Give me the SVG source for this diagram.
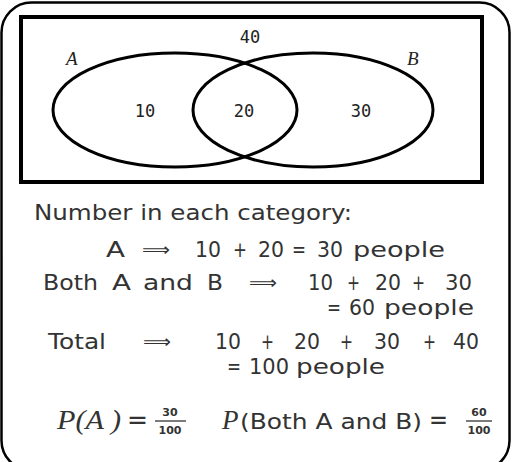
<svg xmlns="http://www.w3.org/2000/svg" width="512" height="462" viewBox="0 0 512 462">
<style>
.frame{fill:none;stroke:#000;stroke-width:2.5}
.box{fill:none;stroke:#000;stroke-width:4}
.ell{fill:none;stroke:#000;stroke-width:3}
.num{font-family:"DejaVu Sans Mono","Liberation Mono",monospace;font-size:17px;fill:#222;text-anchor:middle}
.set{font-family:"Liberation Serif",serif;font-style:italic;font-size:19px;fill:#222}
.t{font-family:"DejaVu Sans","Liberation Sans",sans-serif;font-size:22px;fill:#333}
.s{font-size:21px}
.ar{font-family:"DejaVu Sans","Liberation Sans",sans-serif;font-size:18px;fill:#333}
.pm{font-family:"Liberation Serif",serif;font-style:italic;font-size:27px;fill:#333}
.eq{font-family:"DejaVu Sans","Liberation Sans",sans-serif;font-size:26px;fill:#333}
.fr{font-family:"DejaVu Sans","Liberation Sans",sans-serif;font-weight:bold;font-size:11px;fill:#333;text-anchor:middle}
</style>
<rect class="frame" x="1.5" y="2.5" width="508" height="468" rx="30"/>
<g id="universe">
<rect class="box" x="21" y="17" width="461" height="165"/>
<text class="num" x="250" y="43">40</text>
</g>
<g id="setA">
<ellipse class="ell" cx="175" cy="110" rx="122" ry="57"/>
<text class="set" x="66" y="65">A</text>
<text class="num" x="145" y="117">10</text>
</g>
<g id="setB">
<ellipse class="ell" cx="313" cy="110" rx="120" ry="57"/>
<text class="set" x="407" y="65">B</text>
<text class="num" x="361" y="117">30</text>
</g>
<g id="intersection">
<text class="num" x="244" y="117">20</text>
</g>
<g id="text">
<text class="t" x="34" y="220" textLength="318" lengthAdjust="spacingAndGlyphs">Number in each category:</text>

<text class="t" x="106" y="257" textLength="19" lengthAdjust="spacingAndGlyphs">A</text>
<text class="ar" x="142" y="256" textLength="28" lengthAdjust="spacingAndGlyphs">⟹</text>
<text class="t" x="195" y="257" textLength="26" lengthAdjust="spacingAndGlyphs">10</text>
<text class="t" x="233" y="257" textLength="14" lengthAdjust="spacingAndGlyphs">+</text>
<text class="t" x="258" y="257" textLength="26" lengthAdjust="spacingAndGlyphs">20</text>
<text class="t" x="292" y="257" textLength="14" lengthAdjust="spacingAndGlyphs">=</text>
<text class="t" x="317" y="257" textLength="26" lengthAdjust="spacingAndGlyphs">30</text>
<text class="t" x="353" y="257" textLength="92" lengthAdjust="spacingAndGlyphs">people</text>

<text class="t s" x="43" y="290" textLength="55" lengthAdjust="spacingAndGlyphs">Both</text>
<text class="t s" x="112" y="290" textLength="19" lengthAdjust="spacingAndGlyphs">A</text>
<text class="t s" x="143" y="290" textLength="50" lengthAdjust="spacingAndGlyphs">and</text>
<text class="t s" x="207" y="290" textLength="16" lengthAdjust="spacingAndGlyphs">B</text>
<text class="ar" x="249" y="289" textLength="28" lengthAdjust="spacingAndGlyphs">⟹</text>
<text class="t s" x="308" y="290" textLength="25" lengthAdjust="spacingAndGlyphs">10</text>
<text class="t s" x="347" y="290" textLength="13" lengthAdjust="spacingAndGlyphs">+</text>
<text class="t s" x="375" y="290" textLength="26" lengthAdjust="spacingAndGlyphs">20</text>
<text class="t s" x="412" y="290" textLength="13" lengthAdjust="spacingAndGlyphs">+</text>
<text class="t s" x="445" y="290" textLength="27" lengthAdjust="spacingAndGlyphs">30</text>
<text class="t s" x="327" y="315" textLength="14" lengthAdjust="spacingAndGlyphs">=</text>
<text class="t s" x="349" y="315" textLength="26" lengthAdjust="spacingAndGlyphs">60</text>
<text class="t s" x="384" y="315" textLength="90" lengthAdjust="spacingAndGlyphs">people</text>

<text class="t s" x="48" y="349" textLength="58" lengthAdjust="spacingAndGlyphs">Total</text>
<text class="ar" x="143" y="348" textLength="28" lengthAdjust="spacingAndGlyphs">⟹</text>
<text class="t s" x="215" y="349" textLength="26" lengthAdjust="spacingAndGlyphs">10</text>
<text class="t s" x="261" y="349" textLength="13" lengthAdjust="spacingAndGlyphs">+</text>
<text class="t s" x="294" y="349" textLength="26" lengthAdjust="spacingAndGlyphs">20</text>
<text class="t s" x="340" y="349" textLength="13" lengthAdjust="spacingAndGlyphs">+</text>
<text class="t s" x="374" y="349" textLength="26" lengthAdjust="spacingAndGlyphs">30</text>
<text class="t s" x="423" y="349" textLength="13" lengthAdjust="spacingAndGlyphs">+</text>
<text class="t s" x="453" y="349" textLength="26" lengthAdjust="spacingAndGlyphs">40</text>
<text class="t s" x="227" y="374" textLength="14" lengthAdjust="spacingAndGlyphs">=</text>
<text class="t s" x="249" y="374" textLength="40" lengthAdjust="spacingAndGlyphs">100</text>
<text class="t s" x="296" y="374" textLength="89" lengthAdjust="spacingAndGlyphs">people</text>
</g>
<g id="probabilities">
<text class="pm" x="57" y="429" textLength="64" lengthAdjust="spacingAndGlyphs">P(A )</text>
<text class="eq" x="127" y="429" textLength="21" lengthAdjust="spacingAndGlyphs">=</text>
<text class="fr" x="170" y="416">30</text>
<line x1="155" y1="421" x2="186" y2="421" stroke="#333" stroke-width="1.3"/>
<text class="fr" x="170" y="434">100</text>
<text class="pm" x="222" y="429">P</text>
<text class="t" x="240" y="429" textLength="182" lengthAdjust="spacingAndGlyphs">(Both A and B)</text>
<text class="eq" x="429" y="429" textLength="19" lengthAdjust="spacingAndGlyphs">=</text>
<text class="fr" x="479" y="416">60</text>
<line x1="466" y1="421" x2="492" y2="421" stroke="#333" stroke-width="1.3"/>
<text class="fr" x="479" y="434">100</text>
</g>
</svg>
